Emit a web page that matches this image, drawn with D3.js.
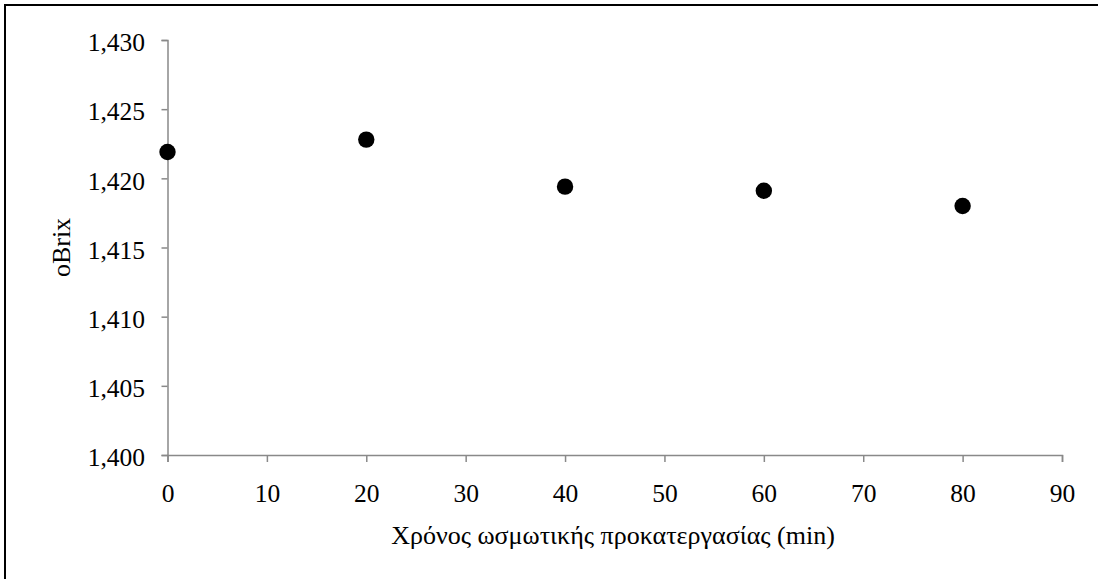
<!DOCTYPE html>
<html>
<head>
<meta charset="utf-8">
<script src="https://cdn.jsdelivr.net/npm/d3@7"></script>
<style>
  html, body { margin: 0; padding: 0; background: #fff; }
  svg { display: block; }
  svg text { font-family: "Liberation Serif", "Times New Roman", Times, "DejaVu Serif", serif !important; fill: #000; }
</style>
</head>
<body>
<svg id="chart" width="1098" height="579"></svg>
<script>
// Data
const times = [0, 20, 40, 60, 80];
const brix = [1.4219, 1.4228, 1.4194, 1.4191, 1.4180];
const xTicks = [0, 10, 20, 30, 40, 50, 60, 70, 80, 90];
const yTicks = [1.400, 1.405, 1.410, 1.415, 1.420, 1.425, 1.430];
const xTitle = "Χρόνος ωσμωτικής προκατεργασίας (min)";
const yTitle = "oBrix";

(function () {
const W = 1098, H = 579;
const pLeft = 167.5, pRight = 1062, pTop = 40, pBottom = 455;
const FONT = '"Liberation Serif", "Times New Roman", Times, serif';
const FS = "25.5px";

const svg = d3.select("#chart");

// outer chart frame (extends past the image on right/bottom)
svg.append("rect")
  .attr("x", 5).attr("y", 5)
  .attr("width", W + 20).attr("height", H + 20)
  .attr("fill", "none").attr("stroke", "#000").attr("stroke-width", 2);

const x = d3.scaleLinear().domain([0, 90]).range([pLeft, pRight]);
const y = d3.scaleLinear().domain([1.400, 1.430]).range([pBottom, pTop]);

const loc = d3.formatLocale({decimal: ",", thousands: ".", grouping: [3], currency: ["", ""]});
const fmtY = loc.format(".3f");

const axisColor = "#898989";

const gy = svg.append("g")
  .attr("transform", `translate(${pLeft},0)`)
  .call(d3.axisLeft(y).tickValues(yTicks).tickFormat(fmtY).tickSize(6).tickPadding(16.5));
gy.attr("font-family", FONT).attr("font-size", FS);
gy.select(".domain").attr("stroke", axisColor).attr("stroke-width", 1.5);
gy.selectAll(".tick line").attr("stroke", axisColor).attr("stroke-width", 1.5);
gy.selectAll(".tick text")
  .attr("dy", "0.42em")
  .style("font-size", FS).attr("fill", "#000");

const gx = svg.append("g")
  .attr("transform", `translate(0,${pBottom})`)
  .call(d3.axisBottom(x).tickValues(xTicks).tickFormat(d3.format("d")).tickSize(7).tickPadding(21.5));
gx.attr("font-family", FONT).attr("font-size", FS);
gx.select(".domain").attr("stroke", axisColor).attr("stroke-width", 1.5);
gx.selectAll(".tick line").attr("stroke", axisColor).attr("stroke-width", 1.5);
gx.selectAll(".tick text")
  .style("font-size", FS).attr("fill", "#000");

// points
svg.append("g").selectAll("circle")
  .data(times.map((t, i) => ({t, v: brix[i]})))
  .join("circle")
  .attr("cx", d => x(d.t))
  .attr("cy", d => y(d.v))
  .attr("r", 8.2)
  .attr("fill", "#000");

// axis titles
svg.append("text")
  .attr("x", 613)
  .attr("y", 544)
  .attr("text-anchor", "middle")
  .attr("font-family", FONT)
  .style("font-size", "26px")
  .text(xTitle);

svg.append("text")
  .attr("transform", `translate(70,${(pTop + pBottom) / 2}) rotate(-90)`)
  .attr("text-anchor", "middle")
  .attr("font-family", FONT)
  .style("font-size", "26px")
  .text(yTitle);
})();
</script>
</body>
</html>
